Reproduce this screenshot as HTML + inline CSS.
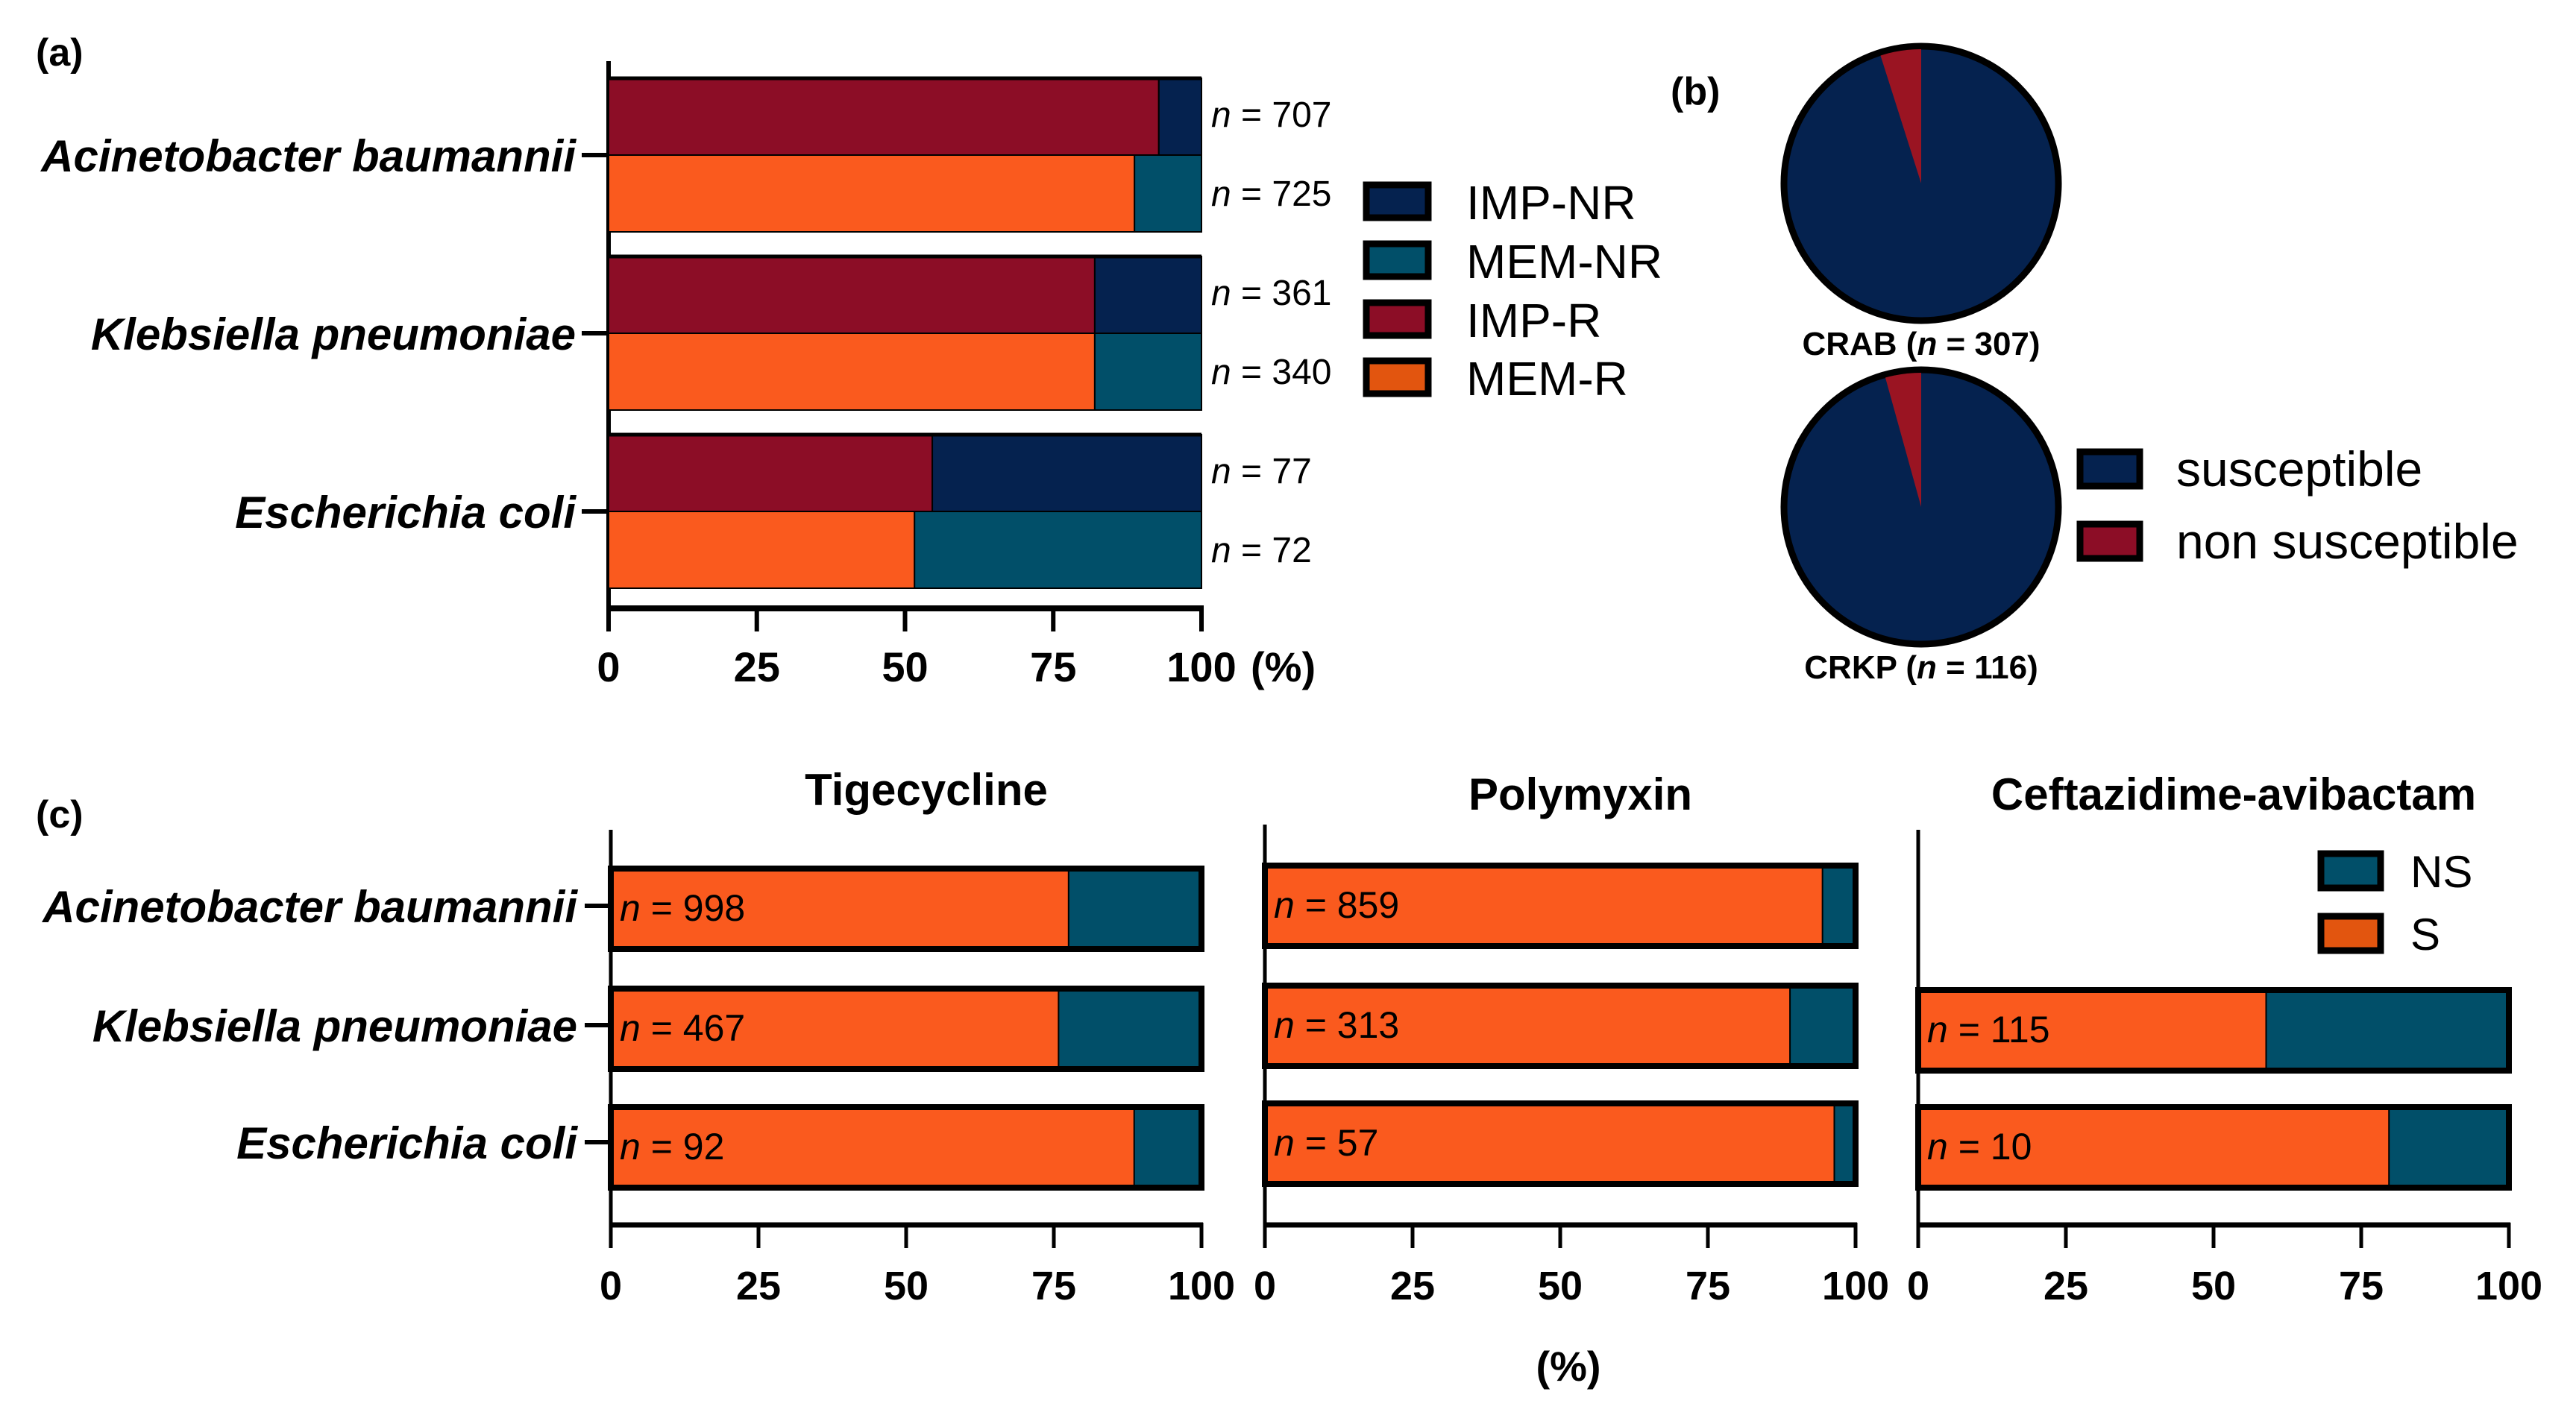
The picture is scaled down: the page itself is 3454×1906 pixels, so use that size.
<!DOCTYPE html>
<html><head><meta charset="utf-8">
<style>
html,body{margin:0;padding:0;background:#fff;}
svg{display:block;font-family:"Liberation Sans",Arial,sans-serif;}
</style></head>
<body>
<svg id="fig" width="3454" height="1906" viewBox="0 0 3454 1906" xmlns="http://www.w3.org/2000/svg">
<g id="pa"></g>
<g id="pb"></g>
<g id="pc"></g>
</svg>
<script>
// ---------- Panel (a) data ----------
const aCategories = ["Acinetobacter baumannii", "Klebsiella pneumoniae", "Escherichia coli"];
const aImpR = [92.8, 82.0, 54.6];
const aMemR = [88.7, 82.0, 51.6];
const aImpN = ["707", "361", "77"];
const aMemN = ["725", "340", "72"];
const aTicks = [0, 25, 50, 75, 100];
const aLegend = ["IMP-NR", "MEM-NR", "IMP-R", "MEM-R"];

// ---------- Panel (b) data ----------
const bPies = ["CRAB", "CRKP"];
const bPieN = ["307", "116"];
const bNonSusceptible = [4.9, 4.3];
const bLegend = ["susceptible", "non susceptible"];

// ---------- Panel (c) data ----------
const cCategories = ["Acinetobacter baumannii", "Klebsiella pneumoniae", "Escherichia coli"];
const cDrugs = ["Tigecycline", "Polymyxin", "Ceftazidime-avibactam"];
const cTigS = [77.5, 75.8, 88.6];
const cTigN = ["998", "467", "92"];
const cPolS = [94.4, 88.9, 96.4];
const cPolN = ["859", "313", "57"];
const cCazS = [null, 58.9, 79.7];
const cCazN = [null, "115", "10"];
const cTicks = [0, 25, 50, 75, 100];
const cLegend = ["NS", "S"];

const NS = "http://www.w3.org/2000/svg";
const C = {navy:"#05224f", teal:"#014f69", red:"#8c0d26", orange:"#fa5a1e", orangeLeg:"#e2550f", pieRed:"#9a1422"};
function mk(tag, attrs, parent, text){
  const e = document.createElementNS(NS, tag);
  for (const k in attrs) e.setAttribute(k, attrs[k]);
  if (text !== undefined) e.textContent = text;
  parent.appendChild(e);
  return e;
}
function nLabel(parent, x, y, num, size, anchor){
  const t = mk("text", {x:x, y:y, "font-size":size, fill:"#000", "text-anchor":anchor||"start"}, parent);
  mk("tspan", {"font-style":"italic"}, t, "n");
  mk("tspan", {}, t, " = " + num);
  return t;
}

// ================= Panel (a) =================
(function(){
  const g = document.getElementById("pa");
  const x0 = 816, x1 = 1611;
  const xs = v => x0 + (x1 - x0) * v / 100;
  const groupTop = [105, 344, 583];
  const barH = 103;
  const lab = mk("text", {x:48, y:88, "font-size":52, "font-weight":"bold"}, g, "(a)");
  
  
  const ya = mk("line", {x1:x0, y1:82, x2:x0, y2:813, stroke:"#000", "stroke-width":6}, g);
  
  
  aCategories.forEach((cat, i) => {
    const t = groupTop[i];
    const impSeg = [[0, aImpR[i], C.red], [aImpR[i], 100, C.navy]];
    const memSeg = [[0, aMemR[i], C.orange], [aMemR[i], 100, C.teal]];
    impSeg.forEach((s, k) => {
      const r = mk("rect", {x:xs(s[0]), y:t, width:xs(s[1]) - xs(s[0]), height:barH, fill:s[2], stroke:"#000", "stroke-width":2}, g);
      
      
    });
    memSeg.forEach((s, k) => {
      const r = mk("rect", {x:xs(s[0]), y:t + barH, width:xs(s[1]) - xs(s[0]), height:barH, fill:s[2], stroke:"#000", "stroke-width":2}, g);
      
      
    });
    const top = mk("line", {x1:x0, y1:t, x2:x1, y2:t, stroke:"#000", "stroke-width":5}, g);
    
    
    const n1 = nLabel(g, 1624, t + 65, aImpN[i], 48);
    
    
    const n2 = nLabel(g, 1624, t + barH + 68, aMemN[i], 48);
    
    
    const cy = t + barH;
    const tk = mk("line", {x1:780, y1:cy, x2:x0, y2:cy, stroke:"#000", "stroke-width":6}, g);
    
    
    const cl = mk("text", {x:772, y:cy + 22, "font-size":60, "font-weight":"bold", "font-style":"italic", "text-anchor":"end"}, g, cat);
    
    
  });
  const xa = mk("line", {x1:x0 - 3, y1:816, x2:x1 + 3, y2:816, stroke:"#000", "stroke-width":8}, g);
  
  
  aTicks.forEach(v => {
    const tk = mk("line", {x1:xs(v), y1:812, x2:xs(v), y2:847, stroke:"#000", "stroke-width":6}, g);
    
    
    const tl = mk("text", {x:xs(v), y:914, "font-size":56, "font-weight":"bold", "text-anchor":"middle"}, g, String(v));
    
    
  });
  const pct = mk("text", {x:1677, y:914, "font-size":56, "font-weight":"bold"}, g, "(%)");
  
  
  const legCols = [C.navy, C.teal, C.red, C.orangeLeg];
  const legY = [244, 323, 402, 480];
  aLegend.forEach((name, i) => {
    const r = mk("rect", {x:1832, y:legY[i] + 4, width:83, height:44, fill:legCols[i], stroke:"#000", "stroke-width":9}, g);
    
    
    const t = mk("text", {x:1966, y:legY[i] + 50, "font-size":64}, g, name);
    
    
  });
})();

// ================= Panel (b) =================
(function(){
  const g = document.getElementById("pb");
  const lab = mk("text", {x:2240, y:140, "font-size":52, "font-weight":"bold"}, g, "(b)");
  
  
  const cx = 2576, cys = [246, 680], R = 184;
  bPies.forEach((name, i) => {
    const cy = cys[i];
    const c = mk("circle", {cx:cx, cy:cy, r:R, fill:C.navy, stroke:"#000", "stroke-width":9}, g);
    
    
    const a = bNonSusceptible[i] / 100 * 2 * Math.PI;
    const r2 = R - 4;
    const ex = cx - r2 * Math.sin(a), ey = cy - r2 * Math.cos(a);
    const p = mk("path", {d:`M${cx},${cy} L${cx},${cy - r2} A${r2},${r2} 0 0 0 ${ex},${ey} Z`, fill:C.pieRed}, g);
    
    
    const t = mk("text", {x:cx, y:cy + 230, "font-size":44, "font-weight":"bold", "text-anchor":"middle"}, g);
    mk("tspan", {}, t, name + " (");
    mk("tspan", {"font-style":"italic"}, t, "n");
    mk("tspan", {}, t, " = " + bPieN[i] + ")");
    
    
  });
  const cols = [C.navy, C.red];
  const ly = [606, 703];
  bLegend.forEach((name, i) => {
    const r = mk("rect", {x:2789, y:ly[i], width:80, height:46, fill:cols[i], stroke:"#000", "stroke-width":9}, g);
    
    
    const t = mk("text", {x:2918, y:ly[i] + 46, "font-size":66}, g, name);
    
    
  });
})();

// ================= Panel (c) =================
(function(){
  const g = document.getElementById("pc");
  const lab = mk("text", {x:48, y:1110, "font-size":52, "font-weight":"bold"}, g, "(c)");
  
  
  const panelX = [[819, 1611], [1696, 2488], [2572, 3364]];
  const panelS = [cTigS, cPolS, cCazS];
  const panelN = [cTigN, cPolN, cCazN];
  const rowTop = [[1161, 1322, 1481], [1157, 1318, 1476], [1163, 1324, 1481]];
  const axisTop = [1113, 1106, 1113];
  const titleY = [1080, 1086, 1086];
  const barH = 108;
  cDrugs.forEach((drug, p) => {
    const [x0, x1] = panelX[p];
    const xs = v => x0 + (x1 - x0) * v / 100;
    const ti = mk("text", {x:(x0 + x1) / 2 + 27, y:titleY[p], "font-size":60, "font-weight":"bold", "text-anchor":"middle"}, g, drug);
    
    
    const ya = mk("line", {x1:x0, y1:axisTop[p], x2:x0, y2:1674, stroke:"#000", "stroke-width":5}, g);
    
    
    panelS[p].forEach((s, i) => {
      if (s === null) return;
      const t = rowTop[p][i] + 4;
      const rs = mk("rect", {x:xs(0), y:t, width:xs(s) - xs(0), height:barH, fill:C.orange}, g);
      
      
      const rn = mk("rect", {x:xs(s), y:t, width:xs(100) - xs(s), height:barH, fill:C.teal}, g);
      
      
      const ol = mk("rect", {x:xs(0), y:t, width:xs(100) - xs(0), height:barH, fill:"none", stroke:"#000", "stroke-width":8}, g);
      
      
      const sep = mk("line", {x1:xs(s), y1:t, x2:xs(s), y2:t + barH, stroke:"#000", "stroke-width":2}, g);
      
      
      const nl = nLabel(g, x0 + 12, t + 70, panelN[p][i], 50);
      
      
    });
    const xa = mk("line", {x1:x0, y1:1643, x2:x1 + 2, y2:1643, stroke:"#000", "stroke-width":7}, g);
    
    
    cTicks.forEach(v => {
      const tk = mk("line", {x1:xs(v), y1:1640, x2:xs(v), y2:1674, stroke:"#000", "stroke-width":5}, g);
      
      
      const tl = mk("text", {x:xs(v), y:1743, "font-size":54, "font-weight":"bold", "text-anchor":"middle"}, g, String(v));
      
      
    });
  });
  const labY = [1215, 1375, 1532];
  cCategories.forEach((cat, i) => {
    const tk = mk("line", {x1:784, y1:labY[i], x2:819, y2:labY[i], stroke:"#000", "stroke-width":6}, g);
    
    
    const cl = mk("text", {x:774, y:labY[i] + 22, "font-size":60, "font-weight":"bold", "font-style":"italic", "text-anchor":"end"}, g, cat);
    
    
  });
  const pct = mk("text", {x:2103, y:1852, "font-size":56, "font-weight":"bold", "text-anchor":"middle"}, g, "(%)");
  
  
  const cols = [C.teal, C.orangeLeg];
  const ly = [1145, 1229];
  cLegend.forEach((name, i) => {
    const r = mk("rect", {x:3112, y:ly[i], width:80, height:46, fill:cols[i], stroke:"#000", "stroke-width":9}, g);
    
    
    const t = mk("text", {x:3232, y:ly[i] + 45, "font-size":60}, g, name);
    
    
  });
})();
</script>
</body></html>
